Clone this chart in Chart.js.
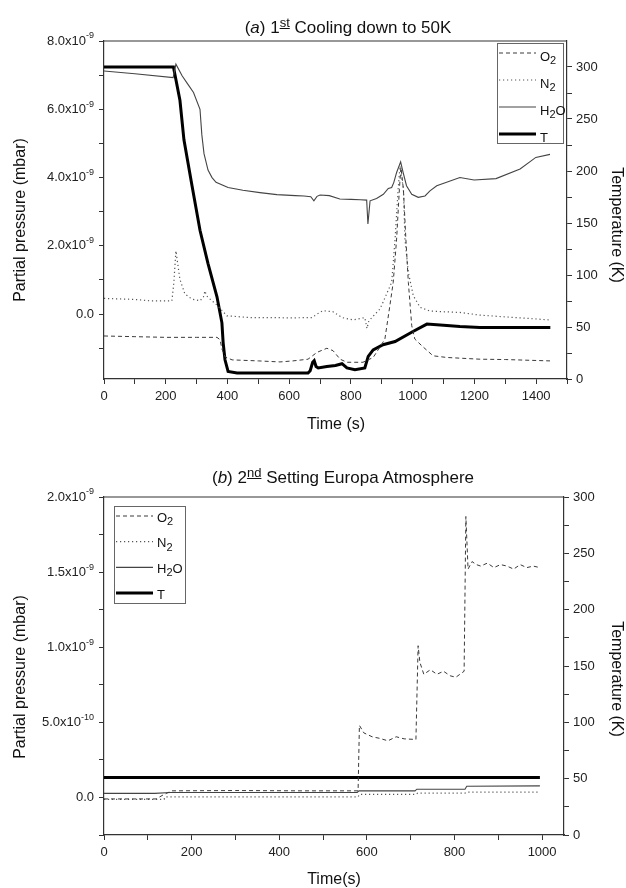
<!DOCTYPE html>
<html>
<head>
<meta charset="utf-8">
<script src="https://cdn.jsdelivr.net/npm/chart.js@4.4.1/dist/chart.umd.min.js"></script>
<style>
  body { margin: 0; background: #fff; font-family: "Liberation Sans", Arial, sans-serif; }
  .panel { position: absolute; left: 0; width: 626px; height: 444px; }
  .ttl { position: absolute; left: 0; font-size: 17px; line-height: 20px; text-align: center; color: #111; white-space: nowrap; }
  .ttl sup { font-size: 13px; text-decoration: underline; vertical-align: 6px; line-height: 0; }
</style>
</head>
<body>
<div class="panel" style="top:0"><canvas id="chartA" width="626" height="444"></canvas></div>
<div class="panel" style="top:444px"><canvas id="chartB" width="626" height="444"></canvas></div>
<div class="ttl" style="top:18px;width:696px">(<i>a</i>) 1<sup>st</sup> Cooling down to 50K</div>
<div class="ttl" style="top:468px;width:686px">(<i>b</i>) 2<sup>nd</sup> Setting Europa Atmosphere</div>
<script>
// ---- (a) 1st cooling down to 50K ----  pressures in 10^-9 mbar, T in K, time in s
const A_O2_TIME = [0, 100, 200, 300, 366, 376, 382, 392, 415, 500, 570, 612, 661, 690, 722, 742, 765, 787, 839, 872, 895, 910, 926, 937, 948, 957, 962, 970, 978, 986, 997, 1007, 1030, 1066, 1111, 1218, 1300, 1445];
const A_O2 = [-0.64, -0.66, -0.68, -0.68, -0.68, -0.75, -1.02, -1.25, -1.34, -1.37, -1.40, -1.37, -1.32, -1.12, -1.0, -1.07, -1.32, -1.41, -1.41, -1.27, -0.95, -0.73, 0.24, 0.93, 2.2, 3.66, 4.3, 3.66, 2.2, 0.93, -0.34, -0.73, -0.93, -1.22, -1.27, -1.32, -1.33, -1.37];

const A_N2_TIME = [0, 100, 149, 220, 226, 233, 240, 246, 262, 285, 311, 322, 327, 332, 337, 369, 398, 473, 538, 600, 674, 690, 709, 742, 771, 807, 845, 852, 858, 868, 894, 904, 916, 932, 943, 953, 959, 970, 975, 986, 1002, 1024, 1056, 1100, 1153, 1218, 1300, 1445];
const A_N2 = [0.46, 0.43, 0.39, 0.39, 0.9, 1.85, 1.4, 1.02, 0.59, 0.44, 0.39, 0.5, 0.68, 0.55, 0.49, 0.24, -0.05, -0.1, -0.1, -0.11, -0.1, 0.0, 0.1, 0.07, -0.1, -0.17, -0.1, -0.42, -0.2, -0.1, 0.15, 0.35, 0.6, 0.93, 2.2, 3.66, 4.34, 3.66, 2.2, 1.22, 0.54, 0.2, 0.09, 0.07, 0.05, -0.03, -0.08, -0.17];

const A_H2O_TIME = [0, 100, 224, 233, 253, 272, 290, 311, 317, 324, 337, 350, 363, 402, 450, 505, 560, 620, 648, 670, 680, 690, 700, 730, 764, 800, 830, 851, 855, 862, 883, 905, 921, 932, 939, 948, 961, 969, 980, 997, 1018, 1040, 1056, 1078, 1110, 1153, 1199, 1270, 1348, 1399, 1445];
const A_H2O = [7.12, 7.04, 6.93, 7.32, 6.98, 6.73, 6.49, 6.0, 5.25, 4.7, 4.22, 4.0, 3.86, 3.71, 3.63, 3.56, 3.50, 3.47, 3.46, 3.44, 3.32, 3.45, 3.49, 3.47, 3.37, 3.36, 3.35, 3.34, 2.64, 3.32, 3.39, 3.51, 3.68, 3.71, 3.86, 4.15, 4.46, 4.15, 3.76, 3.51, 3.42, 3.46, 3.61, 3.76, 3.86, 4.0, 3.93, 3.97, 4.25, 4.59, 4.68];

const A_T_TIME = [0, 225, 246, 259, 285, 311, 337, 366, 382, 386, 392, 402, 431, 500, 600, 661, 668, 676, 681, 687, 694, 722, 750, 771, 787, 813, 845, 856, 872, 904, 943, 1001, 1046, 1111, 1153, 1218, 1300, 1446];
const A_T = [300, 300, 268, 230, 186, 143, 111, 79, 54, 35, 18.5, 7.3, 5.8, 5.8, 5.8, 5.8, 8, 16, 17.6, 12, 10.6, 12, 13, 14.7, 10.6, 8.9, 10.6, 21.7, 28, 33, 36, 45.7, 52.8, 51.5, 50.5, 49.5, 49.5, 49.5];

const A_X_LABELS = [0, 200, 400, 600, 800, 1000, 1200, 1400];
const A_P_LABELS = [0, 2, 4, 6, 8];
const A_T_LABELS = [0, 50, 100, 150, 200, 250, 300];

// ---- (b) 2nd setting Europa atmosphere ----
const B_O2_TIME = [0, 119, 137, 155, 300, 450, 580, 583, 593, 612, 630, 648, 667, 685, 712, 717, 721, 730, 745, 760, 775, 790, 803, 822, 826, 831, 840, 850, 860, 875, 890, 905, 920, 935, 950, 965, 980, 995];
const B_O2 = [-0.01, -0.01, 0.02, 0.044, 0.046, 0.044, 0.044, 0.48, 0.43, 0.404, 0.393, 0.377, 0.404, 0.39, 0.386, 1.01, 0.90, 0.82, 0.85, 0.82, 0.84, 0.81, 0.80, 0.84, 1.87, 1.52, 1.57, 1.55, 1.54, 1.56, 1.53, 1.55, 1.54, 1.52, 1.55, 1.53, 1.54, 1.53];

const B_N2_TIME = [0, 137, 140, 580, 583, 712, 716, 824, 828, 995];
const B_N2 = [-0.013, -0.013, 0.004, 0.004, 0.02, 0.02, 0.029, 0.029, 0.035, 0.035];

const B_H2O_TIME = [0, 116, 151, 578, 582, 710, 714, 824, 828, 995];
const B_H2O = [0.027, 0.027, 0.033, 0.033, 0.044, 0.044, 0.055, 0.055, 0.075, 0.077];

const B_T_TIME = [0, 995];
const B_T = [51, 51];

const B_X_LABELS = [0, 200, 400, 600, 800, 1000];
const B_P_LABELS = [0, 0.5, 1.0, 1.5, 2.0];
const B_T_LABELS = [0, 50, 100, 150, 200, 250, 300];

const SERIES_LABELS = ['O₂', 'N₂', 'H₂O', 'T'];

const FONT = '"Liberation Sans", Arial, sans-serif';
Chart.defaults.font.family = FONT;

// mantissa and exponent of a pressure in mbar, e.g. [ '8.0x10', '-9' ]
function sciParts(v) {
  if (Math.abs(v) < 1e-15) return ['0.0', ''];
  const e = Math.floor(Math.log10(Math.abs(v)) + 1e-9);
  const m = v / Math.pow(10, e);
  return [m.toFixed(1) + 'x10', String(e)];
}

function stepList(min, max, step) {
  const out = [];
  for (let v = min; v <= max + step * 1e-6; v += step) out.push(Math.round(v * 1e6) / 1e6);
  return out;
}

function isLabel(list, v) {
  return list.some(m => Math.abs(m - v) < 1e-6);
}

function axis(o) {
  return {
    type: 'linear', position: o.position, min: o.min, max: o.max,
    afterBuildTicks: (a) => { a.ticks = o.ticks.map(v => ({ value: v })); },
    afterFit: (a) => { if (o.width) a.width = o.width; if (o.height) a.height = o.height; },
    grid: { display: true, drawOnChartArea: false, drawTicks: true, tickLength: 5, color: '#333', lineWidth: 1 },
    border: { display: true, color: '#333', width: 1.2 },
    ticks: {
      autoSkip: false, maxRotation: 0, padding: o.pad, color: '#222', font: { size: 13 },
      // the left pressure axis gets its labels (with superscripts) from the frame plugin
      callback: (v) => (!o.sci && isLabel(o.labels, v)) ? String(v) : ''
    }
  };
}

function series(i, xs, ys, yAxisID, style) {
  return Object.assign({
    label: SERIES_LABELS[i], yAxisID, pointRadius: 0, tension: 0, fill: false,
    data: xs.map((x, k) => ({ x, y: ys[k] }))
  }, style);
}
const ST_O2 = { borderColor: '#3a3a3a', borderWidth: 1, borderDash: [4, 3] };
const ST_N2 = { borderColor: '#555', borderWidth: 1.2, borderDash: [1.2, 2.8] };
const ST_H2O = { borderColor: '#444', borderWidth: 1.1 };
const ST_T = { borderColor: '#000', borderWidth: 3 };

function drawRich(ctx, text, x, y) {
  const SUB = '₀₁₂₃₄₅₆₇₈₉';
  for (const ch of text) {
    const k = SUB.indexOf(ch);
    if (k >= 0) {
      ctx.font = '11px ' + FONT;
      ctx.fillText(String(k), x, y + 4);
      x += ctx.measureText(String(k)).width;
    } else {
      ctx.font = '13px ' + FONT;
      ctx.fillText(ch, x, y);
      x += ctx.measureText(ch).width;
    }
  }
}

const framePlugin = {
  id: 'frame',
  afterDraw(chart, args, opts) {
    const { ctx, chartArea: a } = chart;
    ctx.save();
    ctx.strokeStyle = '#333'; ctx.lineWidth = 1.2;
    ctx.beginPath(); ctx.moveTo(a.left, a.top); ctx.lineTo(a.right, a.top); ctx.stroke();

    // pressure tick labels with superscript exponents
    const ys = chart.scales.y;
    ctx.fillStyle = '#222'; ctx.textBaseline = 'middle'; ctx.textAlign = 'left';
    for (const t of ys.ticks) {
      if (!isLabel(opts.pLabels, t.value)) continue;
      const [mant, exp] = sciParts(t.value * 1e-9);
      const py = ys.getPixelForValue(t.value);
      ctx.font = '9px ' + FONT;
      const we = exp ? ctx.measureText(exp).width : 0;
      ctx.font = '13px ' + FONT;
      const wm = ctx.measureText(mant).width;
      const right = a.left - 10;
      ctx.fillText(mant, right - we - wm, py);
      if (exp) {
        ctx.font = '9px ' + FONT;
        ctx.fillText(exp, right - we, py - 5);
      }
    }

    ctx.fillStyle = '#111';
    ctx.font = '16px ' + FONT;
    ctx.textAlign = 'center'; ctx.textBaseline = 'middle';
    for (const t of opts.titles) {
      ctx.save(); ctx.translate(t.x, t.y); ctx.rotate(t.rot || 0); ctx.fillText(t.text, 0, 0); ctx.restore();
    }

    const L = opts.legend;
    ctx.strokeStyle = '#666'; ctx.lineWidth = 1;
    ctx.strokeRect(L.x + 0.5, L.y + 0.5, L.w, L.h);
    ctx.textAlign = 'left'; ctx.fillStyle = '#111';
    chart.data.datasets.forEach((ds, i) => {
      const y = L.y + L.first + i * L.step;
      ctx.strokeStyle = ds.borderColor; ctx.lineWidth = ds.borderWidth;
      ctx.setLineDash(ds.borderDash || []);
      ctx.beginPath(); ctx.moveTo(L.x + 2, y); ctx.lineTo(L.x + 2 + L.len, y); ctx.stroke();
      ctx.setLineDash([]);
      drawRich(ctx, ds.label, L.x + 2 + L.len + 4, y + L.dy);
    });
    ctx.restore();
  }
};

new Chart(document.getElementById('chartA'), {
  type: 'line',
  data: {
    datasets: [
      series(0, A_O2_TIME, A_O2, 'y', ST_O2),
      series(1, A_N2_TIME, A_N2, 'y', ST_N2),
      series(2, A_H2O_TIME, A_H2O, 'y', ST_H2O),
      series(3, A_T_TIME, A_T, 'y1', ST_T)
    ]
  },
  options: {
    responsive: false, animation: false,
    layout: { padding: { top: 41 } },
    scales: {
      x: axis({ position: 'bottom', min: 0, max: 1500, ticks: stepList(0, 1500, 100), labels: A_X_LABELS, pad: 5, height: 65 }),
      y: axis({ position: 'left', min: -1.9, max: 8.0, ticks: stepList(-1, 8, 1), labels: A_P_LABELS, sci: true, pad: 5, width: 104 }),
      y1: axis({ position: 'right', min: 0, max: 325, ticks: stepList(0, 300, 25), labels: A_T_LABELS, pad: 4, width: 59 })
    },
    plugins: {
      legend: { display: false }, tooltip: { enabled: false },
      frame: {
        pLabels: A_P_LABELS,
        titles: [
          { text: 'Partial pressure (mbar)', x: 21, y: 220, rot: -Math.PI / 2 },
          { text: 'Temperature (K)', x: 616, y: 225, rot: Math.PI / 2 },
          { text: 'Time (s)', x: 336, y: 425 }
        ],
        legend: { x: 497, y: 43, w: 66, h: 100, first: 10, step: 27, len: 37, dy: 4 }
      }
    }
  },
  plugins: [framePlugin]
});

new Chart(document.getElementById('chartB'), {
  type: 'line',
  data: {
    datasets: [
      series(0, B_O2_TIME, B_O2, 'y', ST_O2),
      series(1, B_N2_TIME, B_N2, 'y', ST_N2),
      series(2, B_H2O_TIME, B_H2O, 'y', ST_H2O),
      series(3, B_T_TIME, B_T, 'y1', ST_T)
    ]
  },
  options: {
    responsive: false, animation: false,
    layout: { padding: { top: 53 } },
    scales: {
      x: axis({ position: 'bottom', min: 0, max: 1050, ticks: stepList(0, 1000, 100), labels: B_X_LABELS, pad: 5, height: 53 }),
      y: axis({ position: 'left', min: -0.25, max: 2.0, ticks: stepList(-0.25, 2.0, 0.25), labels: B_P_LABELS, sci: true, pad: 5, width: 104 }),
      y1: axis({ position: 'right', min: 0, max: 300, ticks: stepList(0, 300, 25), labels: B_T_LABELS, pad: 4, width: 62 })
    },
    plugins: {
      legend: { display: false }, tooltip: { enabled: false },
      frame: {
        pLabels: B_P_LABELS,
        titles: [
          { text: 'Partial pressure (mbar)', x: 21, y: 233, rot: -Math.PI / 2 },
          { text: 'Temperature (K)', x: 616, y: 235, rot: Math.PI / 2 },
          { text: 'Time(s)', x: 334, y: 436 }
        ],
        legend: { x: 114, y: 62, w: 71, h: 97, first: 10, step: 25.7, len: 37, dy: 2 }
      }
    }
  },
  plugins: [framePlugin]
});
</script>
</body>
</html>
